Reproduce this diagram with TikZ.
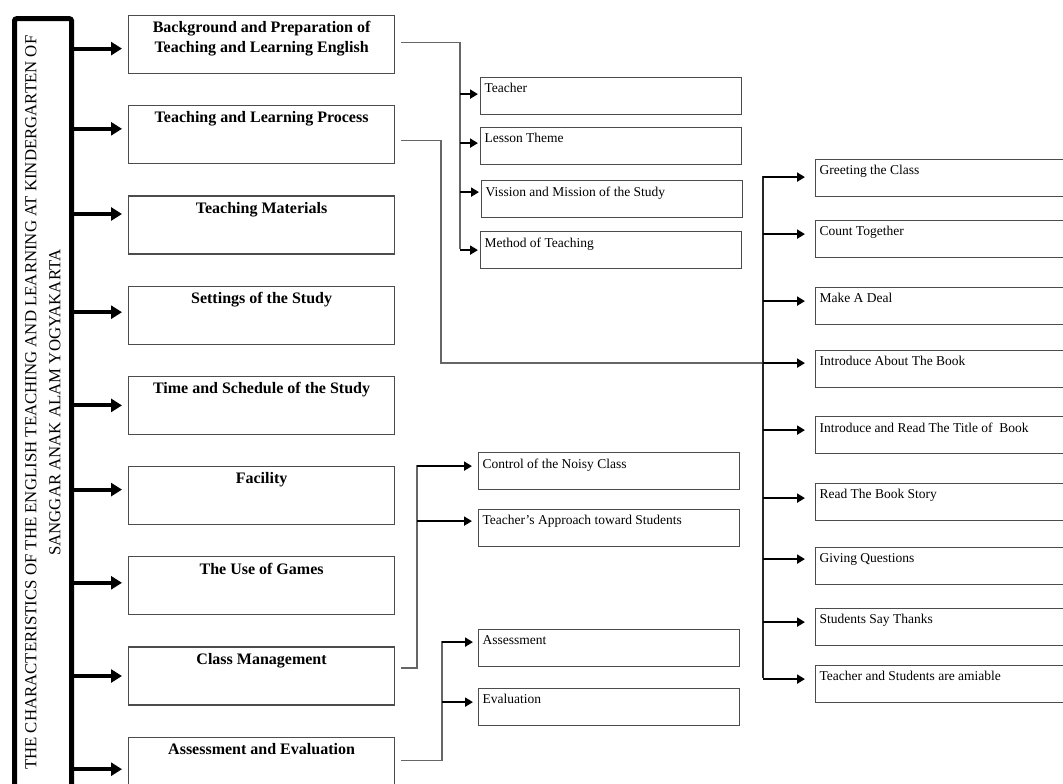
\documentclass[tikz,border=0pt]{standalone}
\usepackage{fontspec}
\setmainfont{Liberation Serif}
\usetikzlibrary{calc, arrows.meta, positioning}

\newcommand{\maintext}[1]{\parbox[c][46pt][t]{258pt}{\centering\bfseries\fontsize{16}{20}\selectfont #1}}
\newcommand{\subtext}[1]{\parbox[c][25pt][t]{253pt}{\raggedright\fontsize{13.5}{15}\selectfont #1}}

\begin{document}
\begin{tikzpicture}[x=1pt, y=-1pt]
% Define styles for boxes, connectors and arrows
\tikzstyle{mainbox} = [draw=black!70, line width=1.2pt, rectangle, minimum width=266pt, minimum height=58pt, inner sep=0pt]
\tikzstyle{subbox} = [draw=black!70, line width=1.2pt, rectangle, minimum width=261pt, minimum height=37pt, inner sep=0pt, anchor=north west]
\tikzstyle{titlebox} = [draw, line width=5pt, rounded corners=2pt, rotate=90, minimum width=768pt, minimum height=57pt, inner sep=0pt, align=center, font=\fontsize{16.8}{18}\selectfont]
\tikzstyle{conn} = [draw=black!60, line width=1.3pt]
\tikzstyle{bus} = [draw=black!85, line width=1.3pt]
\tikzstyle{bigarrow} = [line width=4pt, -{Triangle[length=11pt, width=13pt]}, shorten >=6pt]
\tikzstyle{smallarrow} = [line width=2.6pt, -{Triangle[length=8pt, width=9pt]}]

\useasboundingbox (0,0) rectangle (1063,784);

% Nodes placement
\node [titlebox] (title) at (43,402.75) {THE CHARACTERISTICS OF THE ENGLISH TEACHING AND LEARNING AT KINDERGARTEN OF\\[6pt] SANGGAR ANAK ALAM YOGYAKARTA};

\node [mainbox, anchor=north west] (bg) at (128,15) {\maintext{Background and Preparation of\\Teaching and Learning English}};
\node [mainbox, below=31pt of bg] (tlp) {\maintext{Teaching and Learning Process}};
\node [mainbox, below=31pt of tlp] (mat) {\maintext{Teaching Materials}};
\node [mainbox, below=31pt of mat] (set) {\maintext{Settings of the Study}};
\node [mainbox, below=31pt of set] (time) {\maintext{Time and Schedule of the Study}};
\node [mainbox, below=31pt of time] (fac) {\maintext{Facility}};
\node [mainbox, below=31pt of fac] (games) {\maintext{The Use of Games}};
\node [mainbox, below=31pt of games] (cm) {\maintext{Class Management}};
\node [mainbox, below=31pt of cm] (ae) {\maintext{Assessment and Evaluation}};

\node [subbox] (teacher) at (480,77) {\subtext{Teacher}};
\node [subbox] (theme) at (480,127) {\subtext{Lesson Theme}};
\node [subbox] (vision) at (481,180) {\subtext{Vission and Mission of the Study}};
\node [subbox] (method) at (480,231) {\subtext{Method of Teaching}};

\node [subbox] (noisy) at (478,452) {\subtext{Control of the Noisy Class}};
\node [subbox] (approach) at (478,509) {\subtext{Teacher's Approach toward Students}};
\node [subbox] (assess) at (478,629) {\subtext{Assessment}};
\node [subbox] (eval) at (478,688) {\subtext{Evaluation}};

\node [subbox] (greet) at (815,159) {\subtext{Greeting the Class}};
\node [subbox] (count) at (815,220) {\subtext{Count Together}};
\node [subbox] (deal) at (815,287) {\subtext{Make A Deal}};
\node [subbox] (about) at (815,350) {\subtext{Introduce About The Book}};
\node [subbox] (readtitle) at (815,416) {\subtext{Introduce and Read The Title of~ Book}};
\node [subbox] (story) at (815,483) {\subtext{Read The Book Story}};
\node [subbox] (quest) at (815,547) {\subtext{Giving Questions}};
\node [subbox] (thanks) at (815,608) {\subtext{Students Say Thanks}};
\node [subbox] (amiable) at (815,665) {\subtext{Teacher and Students are amiable}};

\coordinate (busA) at (460,249);
\coordinate (busB) at (441,363);
\coordinate (busC) at (763,176);
\coordinate (busCend) at (763,678);
\coordinate (busD) at (417,465);
\coordinate (busE) at (442,641);

% Draw edges
\foreach \n/\dy in {bg/4, tlp/-6, mat/-11, set/-3, time/0, fac/-6, games/-3, cm/0, ae/3}
  \draw [bigarrow] ($(\n.west -| title.south)+(0,\dy)$) -- ($(\n.west)+(0,\dy)$);

\draw [conn] ($(bg.east)+(6,-2)$) -| (busA);
\foreach \n/\dy in {teacher/-2, theme/-3, vision/-7, method/0}
  \draw [smallarrow, shorten >=2pt] ($(\n.west -| busA)+(0,\dy)$) -- ($(\n.west)+(0,\dy)$);

\draw [conn] ($(tlp.east)+(6,6)$) -| (busB) -- (busB -| busC);
\draw [bus] (busC) -- (busCend);
\foreach \n/\dy in {greet/-1, count/-5, deal/-5, about/-6, readtitle/-5, story/-4, quest/-7, thanks/-5, amiable/-5}
  \draw [smallarrow, shorten >=10pt] ($(\n.west -| busC)+(0,\dy)$) -- ($(\n.west)+(0,\dy)$);

\draw [conn] ($(cm.east)+(6,-8)$) -| (busD);
\foreach \n/\dy in {noisy/-5, approach/-7}
  \draw [smallarrow, shorten >=6pt] ($(\n.west -| busD)+(0,\dy)$) -- ($(\n.west)+(0,\dy)$);

\draw [conn] ($(ae.east)+(6,-6)$) -| (busE);
\foreach \n/\dy in {assess/-6, eval/-5}
  \draw [smallarrow, shorten >=5pt] ($(\n.west -| busE)+(0,\dy)$) -- ($(\n.west)+(0,\dy)$);
\end{tikzpicture}
\end{document}
